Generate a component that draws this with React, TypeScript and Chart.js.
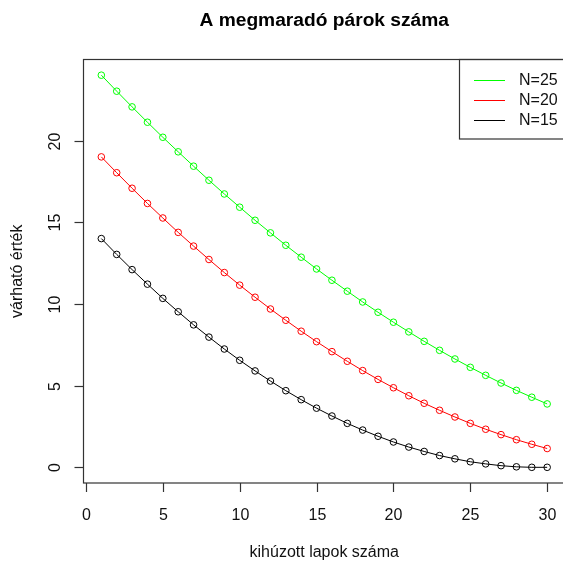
import React, { useEffect, useRef } from "react";
import { Chart, registerables } from "chart.js";

Chart.register(...registerables);

const draws = [1,2,3,4,5,6,7,8,9,10,11,12,13,14,15,16,17,18,19,20,21,22,23,24,25,26,27,28,29,30];
const n25 = [24,23.02,22.06,21.12,20.2,19.31,18.43,17.57,16.73,15.92,15.12,14.35,13.59,12.86,12.14,11.45,10.78,10.12,9.49,8.88,8.29,7.71,7.16,6.63,6.12,5.63,5.16,4.71,4.29,3.88];
const n20 = [19,18.03,17.08,16.15,15.26,14.38,13.54,12.72,11.92,11.15,10.41,9.69,9.0,8.33,7.69,7.08,6.49,5.92,5.38,4.87,4.38,3.92,3.49,3.08,2.69,2.33,2.0,1.69,1.41,1.15];
const n15 = [14,13.03,12.1,11.21,10.34,9.52,8.72,7.97,7.24,6.55,5.9,5.28,4.69,4.14,3.62,3.14,2.69,2.28,1.9,1.55,1.24,0.97,0.72,0.52,0.34,0.21,0.1,0.03,0,0];
const xTicks = [0, 5, 10, 15, 20, 25, 30];
const yTicks = [0, 5, 10, 15, 20];
const legendLabels = ["N=25", "N=20", "N=15"];
const colors = ["#00ff00", "#ff0000", "#000000"];
const title = "A megmaradó párok száma";
const xTitle = "kihúzott lapok száma";
const yTitle = "várható érték";

const FONT = '"Liberation Sans", Arial, sans-serif';

const decor = {
  id: "decor",
  afterDraw(chart: any) {
    const ctx = chart.ctx as CanvasRenderingContext2D;
    const { left, right, top, bottom } = chart.chartArea;
    const xs = chart.scales.x;
    const ys = chart.scales.y;
    const cx = (left + right) / 2;
    const cy = (top + bottom) / 2;
    ctx.save();
    ctx.strokeStyle = "#333";
    ctx.lineWidth = 1.2;
    ctx.strokeRect(left, top, right - left, bottom - top);
    ctx.fillStyle = "#111";
    ctx.font = `16px ${FONT}`;
    ctx.textAlign = "center";
    ctx.textBaseline = "middle";
    for (const v of xTicks) {
      const x = Math.round(xs.getPixelForValue(v)) + 0.5;
      ctx.beginPath();
      ctx.moveTo(x, bottom);
      ctx.lineTo(x, bottom + 9);
      ctx.stroke();
      ctx.fillText(String(v), x, 516);
    }
    for (const v of yTicks) {
      const y = Math.round(ys.getPixelForValue(v)) + 0.5;
      ctx.beginPath();
      ctx.moveTo(left, y);
      ctx.lineTo(left - 9, y);
      ctx.stroke();
      ctx.save();
      ctx.translate(56, y);
      ctx.rotate(-Math.PI / 2);
      ctx.fillText(String(v), 0, 0);
      ctx.restore();
    }
    ctx.fillStyle = "#000";
    ctx.font = `bold 19.2px ${FONT}`;
    ctx.fillText(title, cx, 21);
    ctx.fillStyle = "#111";
    ctx.font = `16px ${FONT}`;
    ctx.fillText(xTitle, cx, 553);
    ctx.save();
    ctx.translate(18, cy);
    ctx.rotate(-Math.PI / 2);
    ctx.fillText(yTitle, 0, 0);
    ctx.restore();
    // legend
    const lx = 459.5;
    const ly = top;
    ctx.strokeRect(lx, ly, 200, 79.5);
    ctx.textAlign = "left";
    legendLabels.forEach((lab, i) => {
      const y = 80 + i * 20;
      ctx.strokeStyle = colors[i];
      ctx.lineWidth = 1;
      ctx.beginPath();
      ctx.moveTo(474, y + 0.5);
      ctx.lineTo(505, y + 0.5);
      ctx.stroke();
      ctx.fillStyle = "#111";
      ctx.fillText(lab, 519, y + 1);
    });
    ctx.restore();
  },
};

export default function App() {
  const ref = useRef<HTMLCanvasElement>(null);
  useEffect(() => {
    const mk = (data: number[], i: number) => ({
      label: legendLabels[i],
      data: data.map((y, k) => ({ x: draws[k], y })),
      borderColor: colors[i],
      backgroundColor: "rgba(0,0,0,0)",
      borderWidth: 1,
      pointRadius: 3.3,
      pointBorderWidth: 1,
      pointBorderColor: colors[i],
      pointBackgroundColor: "rgba(0,0,0,0)",
      tension: 0,
    });
    const chart = new Chart(ref.current!, {
      type: "line",
      data: { datasets: [mk(n25, 0), mk(n20, 1), mk(n15, 2)] },
      options: {
        responsive: false,
        animation: false,
        devicePixelRatio: 1,
        layout: { padding: { left: 83.5, top: 59.5, right: 15, bottom: 80 } },
        plugins: { legend: { display: false }, title: { display: false }, tooltip: { enabled: false } },
        scales: {
          x: { type: "linear", min: -0.16, max: 31.16, display: false },
          y: { type: "linear", min: -0.96, max: 24.96, display: false },
        },
      },
      plugins: [decor],
    });
    return () => chart.destroy();
  }, []);
  return (
    <div style={{ position: "fixed", left: 0, top: 0, width: 563, height: 563, overflow: "hidden", background: "#fff" }}>
      <canvas ref={ref} width={580} height={563} style={{ display: "block" }} />
    </div>
  );
}
